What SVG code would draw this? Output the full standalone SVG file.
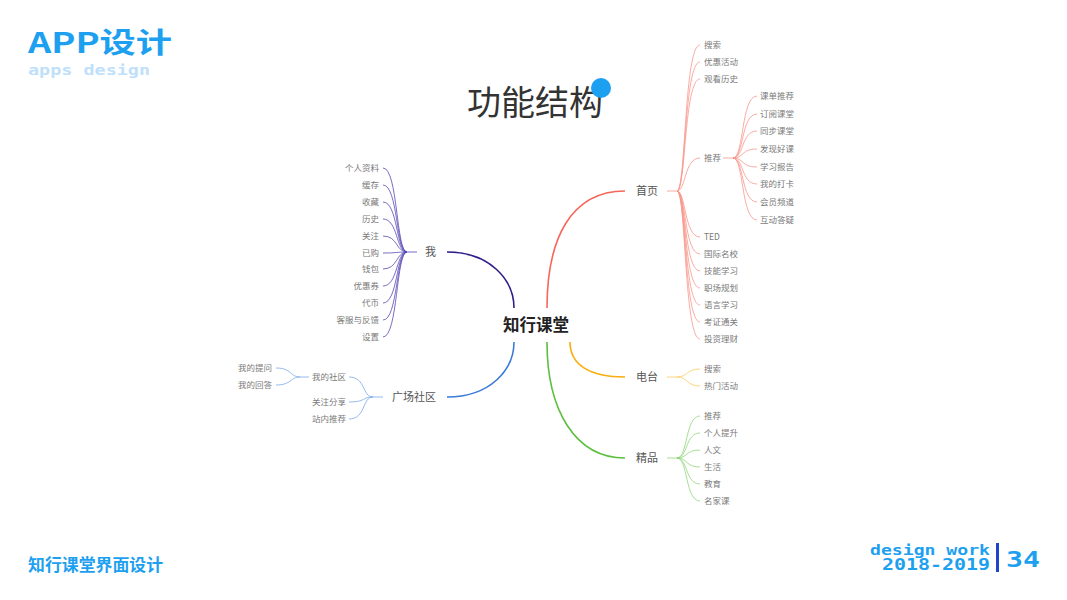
<svg xmlns="http://www.w3.org/2000/svg" width="1067" height="600" viewBox="0 0 1067 600">
<style>
.cjk{font-family:"Noto Sans CJK SC","Liberation Sans",sans-serif}
.leaf{font-family:"Noto Sans CJK SC","Liberation Sans",sans-serif;font-size:8.5px;fill:#7a7a7a}
.lr{text-anchor:end}
.br{font-family:"Noto Sans CJK SC","Liberation Sans",sans-serif;font-size:11px;fill:#555}
.c{fill:none}
.red{stroke:#f5675a;stroke-width:1.6}
.redl{stroke:#f8978c;stroke-width:0.8}
.pur{stroke:#2d1e8a;stroke-width:1.6}
.purl{stroke:#5548b5;stroke-width:0.8}
.blu{stroke:#3a7bd8;stroke-width:1.6}
.blul{stroke:#7aa8e8;stroke-width:0.8}
.ora{stroke:#f9ad0f;stroke-width:1.6}
.oral{stroke:#fbca5a;stroke-width:0.8}
.grn{stroke:#5cbf3d;stroke-width:1.6}
.grnl{stroke:#90d67a;stroke-width:0.8}
.hd{font-family:"DejaVu Sans Mono","Liberation Mono",monospace;font-weight:bold;fill:#1ea0f0}
</style>
<rect width="1067" height="600" fill="#fff"/>
<g id="header">
<text x="28" y="53" class="cjk" font-size="28" font-weight="bold" fill="#1ea0f0" textLength="144" lengthAdjust="spacingAndGlyphs">APP设计</text>
<text x="28" y="75" class="hd" font-size="14" style="fill:#bfe0fa" textLength="122" lengthAdjust="spacingAndGlyphs">apps design</text>
</g>
<g id="title">
<text x="535" y="115" class="cjk" font-size="34" fill="#333" text-anchor="middle">功能结构</text>
<circle cx="601" cy="88" r="10" fill="#1ea0f0"/>
</g>
<g id="connectors">
<path class="c red" d="M547,308 C547,240 570,191 625,191"/>
<path class="c pur" d="M514,308 C514,280 490,252 447,252"/>
<path class="c blu" d="M514,342 C514,370 490,397 447,397"/>
<path class="c ora" d="M570,342 C570,365 590,377 625,377"/>
<path class="c grn" d="M547,342 C547,410 575,458 625,458"/>
<path class="c redl" d="M667,191 H677"/>
<path class="c redl" d="M677,191 C686,191 684,45 700,45 M677,191 C686,191 684,62 700,62 M677,191 C686,191 684,79 700,79 M677,191 C686,191 684,158 700,158 M677,191 C686,191 684,237 700,237 M677,191 C686,191 684,254 700,254 M677,191 C686,191 684,271 700,271 M677,191 C686,191 684,288 700,288 M677,191 C686,191 684,305 700,305 M677,191 C686,191 684,322 700,322 M677,191 C686,191 684,339 700,339"/>
<path class="c redl" d="M723,158 H733"/>
<path class="c redl" d="M733,158 C744,158 741,96 757,96 M733,158 C744,158 741,114 757,114 M733,158 C744,158 741,131 757,131 M733,158 C744,158 741,149 757,149 M733,158 C744,158 741,167 757,167 M733,158 C744,158 741,184 757,184 M733,158 C744,158 741,202 757,202 M733,158 C744,158 741,220 757,220"/>
<path class="c purl" d="M407,252 H417"/>
<path class="c purl" d="M383,168 C398,168 396,252 407,252 M383,185 C398,185 396,252 407,252 M383,202 C398,202 396,252 407,252 M383,219 C398,219 396,252 407,252 M383,236 C398,236 396,252 407,252 M383,253 C398,253 396,252 407,252 M383,269 C398,269 396,252 407,252 M383,286 C398,286 396,252 407,252 M383,303 C398,303 396,252 407,252 M383,320 C398,320 396,252 407,252 M383,337 C398,337 396,252 407,252"/>
<path class="c blul" d="M373,397 H383"/>
<path class="c blul" d="M349,377 C366,377 362,397 373,397 M349,402 C366,402 362,397 373,397 M349,419 C366,419 362,397 373,397"/>
<path class="c blul" d="M300,377 H309"/>
<path class="c blul" d="M276,368 C292,368 290,377 300,377 M276,385 C292,385 290,377 300,377"/>
<path class="c oral" d="M667,377 H677"/>
<path class="c oral" d="M677,377 C688,377 686,369 700,369 M677,377 C688,377 686,386 700,386"/>
<path class="c grnl" d="M667,458 H677"/>
<path class="c grnl" d="M677,458 C688,458 685,416 700,416 M677,458 C688,458 685,433 700,433 M677,458 C688,458 685,450 700,450 M677,458 C688,458 685,467 700,467 M677,458 C688,458 685,484 700,484 M677,458 C688,458 685,501 700,501"/>
</g>
<g id="center"><text x="536" y="331" class="cjk" font-size="16.5" font-weight="bold" fill="#222" text-anchor="middle">知行课堂</text></g>
<g id="n-shouye"><text x="636" y="195" class="br">首页</text></g>
<g id="n-wo"><text x="425" y="256" class="br">我</text></g>
<g id="n-guangchang"><text x="392" y="401" class="br">广场社区</text></g>
<g id="n-diantai"><text x="636" y="381" class="br">电台</text></g>
<g id="n-jingpin"><text x="636" y="462" class="br">精品</text></g>
<g id="leaves-shouye">
<text x="704" y="48" class="leaf">搜索</text>
<text x="704" y="65" class="leaf">优惠活动</text>
<text x="704" y="82" class="leaf">观看历史</text>
<text x="704" y="161" class="leaf">推荐</text>
<text x="704" y="240" class="leaf">TED</text>
<text x="704" y="257" class="leaf">国际名校</text>
<text x="704" y="274" class="leaf">技能学习</text>
<text x="704" y="291" class="leaf">职场规划</text>
<text x="704" y="308" class="leaf">语言学习</text>
<text x="704" y="325" class="leaf">考证通关</text>
<text x="704" y="342" class="leaf">投资理财</text>
</g>
<g id="leaves-tuijian">
<text x="760" y="99" class="leaf">课单推荐</text>
<text x="760" y="117" class="leaf">订阅课堂</text>
<text x="760" y="134" class="leaf">同步课堂</text>
<text x="760" y="152" class="leaf">发现好课</text>
<text x="760" y="170" class="leaf">学习报告</text>
<text x="760" y="187" class="leaf">我的打卡</text>
<text x="760" y="205" class="leaf">会员频道</text>
<text x="760" y="223" class="leaf">互动答疑</text>
</g>
<g id="leaves-wo">
<text x="379" y="171" class="leaf lr">个人资料</text>
<text x="379" y="188" class="leaf lr">缓存</text>
<text x="379" y="205" class="leaf lr">收藏</text>
<text x="379" y="222" class="leaf lr">历史</text>
<text x="379" y="239" class="leaf lr">关注</text>
<text x="379" y="256" class="leaf lr">已购</text>
<text x="379" y="272" class="leaf lr">钱包</text>
<text x="379" y="289" class="leaf lr">优惠券</text>
<text x="379" y="306" class="leaf lr">代币</text>
<text x="379" y="323" class="leaf lr">客服与反馈</text>
<text x="379" y="340" class="leaf lr">设置</text>
</g>
<g id="leaves-guangchang">
<text x="346" y="380" class="leaf lr">我的社区</text>
<text x="346" y="405" class="leaf lr">关注分享</text>
<text x="346" y="422" class="leaf lr">站内推荐</text>
<text x="272" y="371" class="leaf lr">我的提问</text>
<text x="272" y="388" class="leaf lr">我的回答</text>
</g>
<g id="leaves-diantai">
<text x="704" y="372" class="leaf">搜索</text>
<text x="704" y="389" class="leaf">热门活动</text>
</g>
<g id="leaves-jingpin">
<text x="704" y="419" class="leaf">推荐</text>
<text x="704" y="436" class="leaf">个人提升</text>
<text x="704" y="453" class="leaf">人文</text>
<text x="704" y="470" class="leaf">生活</text>
<text x="704" y="487" class="leaf">教育</text>
<text x="704" y="504" class="leaf">名家课</text>
</g>
<g id="footer">
<text x="28" y="571" class="cjk" font-size="16.5" font-weight="bold" fill="#1ea0f0" textLength="135" lengthAdjust="spacingAndGlyphs">知行课堂界面设计</text>
<text x="870" y="555" class="hd" font-size="14" textLength="120" lengthAdjust="spacingAndGlyphs">design work</text>
<text x="882" y="570" class="hd" font-size="15" textLength="108" lengthAdjust="spacingAndGlyphs">2018-2019</text>
<rect x="996" y="543" width="3" height="29" fill="#1a48c8"/>
<text x="1006" y="567" class="hd" font-size="22" textLength="34" lengthAdjust="spacingAndGlyphs">34</text>
</g>
</svg>
